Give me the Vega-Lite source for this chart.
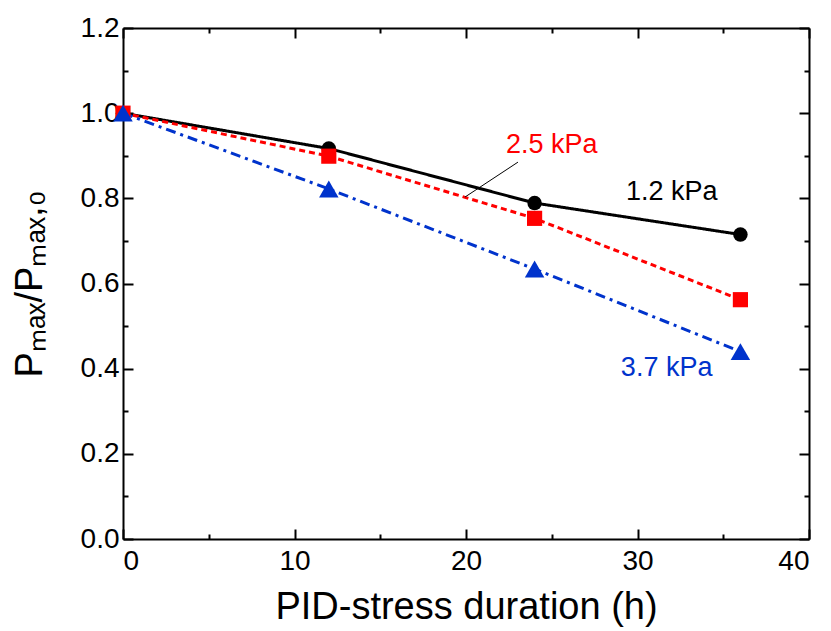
{
  "$schema": "https://vega.github.io/schema/vega-lite/v6.json",
  "width": 686,
  "height": 511,
  "autosize": {"type": "none"},
  "padding": {"left": 123, "top": 28, "right": 22, "bottom": 92},
  "background": "white",
  "config": {
    "view": {"stroke": null},
    "font": "Liberation Sans",
    "axis": {"grid": false, "domainColor": "black", "domainWidth": 2, "tickColor": "black", "tickWidth": 2, "labelColor": "black", "titleColor": "black", "labelFont": "Liberation Sans", "titleFont": "Liberation Sans", "titleFontWeight": "normal", "labelFontSize": 28, "titleFontSize": 38}
  },
  "datasets": {
    "pts": [
      {"series": "1.2 kPa", "t": 0, "v": 1.0},
      {"series": "1.2 kPa", "t": 12, "v": 0.917},
      {"series": "1.2 kPa", "t": 24, "v": 0.789},
      {"series": "1.2 kPa", "t": 36, "v": 0.715},
      {"series": "2.5 kPa", "t": 0, "v": 1.0},
      {"series": "2.5 kPa", "t": 12, "v": 0.899},
      {"series": "2.5 kPa", "t": 24, "v": 0.753},
      {"series": "2.5 kPa", "t": 36, "v": 0.562},
      {"series": "3.7 kPa", "t": 0, "v": 1.0},
      {"series": "3.7 kPa", "t": 12, "v": 0.822},
      {"series": "3.7 kPa", "t": 24, "v": 0.634},
      {"series": "3.7 kPa", "t": 36, "v": 0.44}
    ],
    "labels": [
      {"series": "2.5 kPa", "t": 25.0, "v": 0.925},
      {"series": "1.2 kPa", "t": 32.0, "v": 0.815},
      {"series": "3.7 kPa", "t": 31.7, "v": 0.402}
    ],
    "leader": [
      {"t": 19.94, "v": 0.803, "t2": 23.03, "v2": 0.885}
    ]
  },
  "layer": [
    {
      "layer": [
        {
          "data": {"name": "pts"},
          "mark": {"type": "line", "strokeWidth": 3},
          "encoding": {
            "x": {"field": "t", "type": "quantitative", "scale": {"domain": [0, 40], "nice": false},
              "axis": {"orient": "bottom", "title": "PID-stress duration (h)", "values": [0,10,20,30,40],
                "tickSize": -10, "labelPadding": 18, "titlePadding": 13}},
            "y": {"field": "v", "type": "quantitative", "scale": {"domain": [0, 1.2], "nice": false},
              "axis": {"orient": "left", "title": "Pₘₐₓ/Pₘₐₓ,₀", "values": [0,0.2,0.4,0.6,0.8,1.0,1.2],
                "format": ".1f", "tickSize": -10, "labelPadding": 14, "titlePadding": 31}},
            "color": {"field": "series", "type": "nominal", "scale": {"domain": ["1.2 kPa", "2.5 kPa", "3.7 kPa"], "range": ["#000000", "#ff0000", "#0033cc"]}, "legend": null},
            "strokeDash": {"field": "series", "type": "nominal", "scale": {"domain": ["1.2 kPa", "2.5 kPa", "3.7 kPa"], "range": [[1, 0], [6, 4], [10, 5, 3, 5]]}, "legend": null}
          }
        },
        {
          "data": {"name": "pts"},
          "transform": [{"filter": "datum.series === '1.2 kPa'"}],
          "mark": {"type": "point", "filled": true, "opacity": 1, "shape": "circle", "size": 210, "color": "#000000"},
          "encoding": {
            "x": {"field": "t", "type": "quantitative"},
            "y": {"field": "v", "type": "quantitative"}
          }
        },
        {
          "data": {"name": "pts"},
          "transform": [{"filter": "datum.series === '2.5 kPa'"}],
          "mark": {"type": "point", "filled": true, "opacity": 1, "shape": "square", "size": 230, "color": "#ff0000"},
          "encoding": {
            "x": {"field": "t", "type": "quantitative"},
            "y": {"field": "v", "type": "quantitative"}
          }
        },
        {
          "data": {"name": "pts"},
          "transform": [{"filter": "datum.series === '3.7 kPa'"}],
          "mark": {"type": "point", "filled": true, "opacity": 1, "shape": "triangle-up", "size": 380, "color": "#0033cc"},
          "encoding": {
            "x": {"field": "t", "type": "quantitative"},
            "y": {"field": "v", "type": "quantitative"}
          }
        },
        {
          "data": {"name": "leader"},
          "mark": {"type": "rule", "color": "black", "strokeWidth": 1},
          "encoding": {
            "x": {"field": "t", "type": "quantitative"},
            "y": {"field": "v", "type": "quantitative"},
            "x2": {"field": "t2"},
            "y2": {"field": "v2"}
          }
        },
        {
          "data": {"name": "labels"},
          "mark": {"type": "text", "fontSize": 27, "font": "Liberation Sans", "align": "center", "baseline": "middle"},
          "encoding": {
            "x": {"field": "t", "type": "quantitative"},
            "y": {"field": "v", "type": "quantitative"},
            "text": {"field": "series"},
            "color": {"field": "series", "type": "nominal", "legend": null}
          }
        }
      ]
    },
    {
      "data": {"name": "pts"},
      "mark": {"type": "point", "opacity": 0},
      "encoding": {
        "x": {"field": "t", "type": "quantitative",
          "axis": {"orient": "bottom", "title": null, "labels": false, "domain": false, "values": [5,15,25,35], "tickSize": -5}},
        "y": {"field": "v", "type": "quantitative",
          "axis": {"orient": "left", "title": null, "labels": false, "domain": false, "values": [0.1,0.3,0.5,0.7,0.9,1.1], "tickSize": -5}}
      }
    },
    {
      "data": {"name": "pts"},
      "mark": {"type": "point", "opacity": 0},
      "encoding": {
        "x": {"field": "t", "type": "quantitative",
          "axis": {"orient": "top", "title": null, "labels": false, "values": [0,10,20,30,40], "tickSize": -10}},
        "y": {"field": "v", "type": "quantitative",
          "axis": {"orient": "right", "title": null, "labels": false, "values": [0,0.2,0.4,0.6,0.8,1.0,1.2], "tickSize": -10}}
      }
    },
    {
      "data": {"name": "pts"},
      "mark": {"type": "point", "opacity": 0},
      "encoding": {
        "x": {"field": "t", "type": "quantitative",
          "axis": {"orient": "top", "title": null, "labels": false, "domain": false, "values": [5,15,25,35], "tickSize": -5}},
        "y": {"field": "v", "type": "quantitative",
          "axis": {"orient": "right", "title": null, "labels": false, "domain": false, "values": [0.1,0.3,0.5,0.7,0.9,1.1], "tickSize": -5}}
      }
    }
  ],
  "resolve": {"axis": {"x": "independent", "y": "independent"}}
}
